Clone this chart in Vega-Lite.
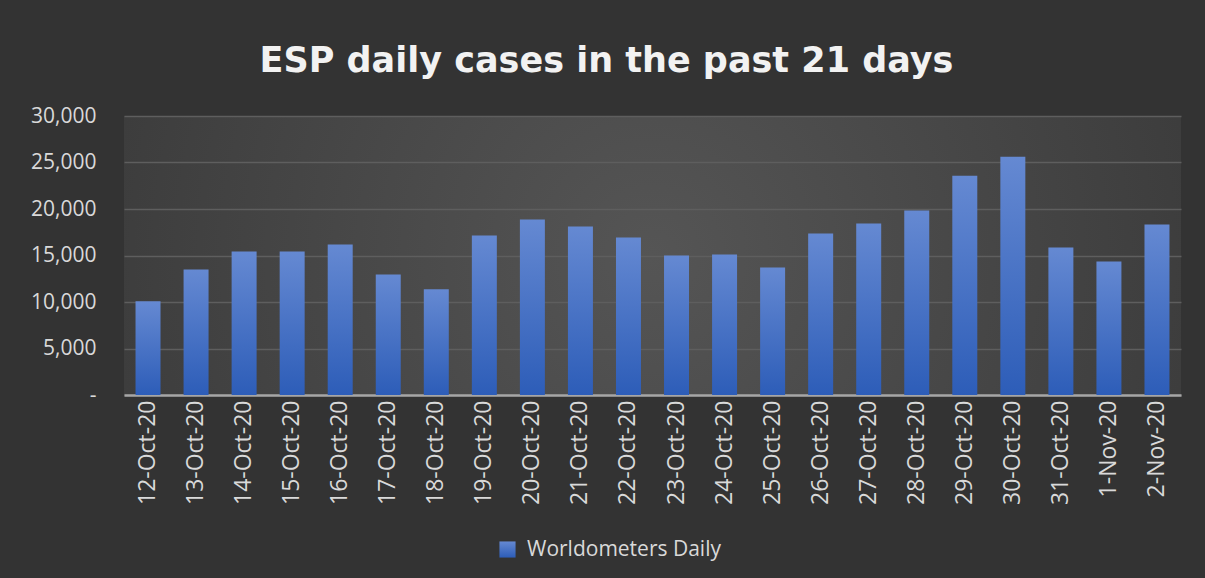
{
  "$schema": "https://vega.github.io/schema/vega-lite/v6.json",
  "autosize": {"type": "none"},
  "width": 1057,
  "height": 279,
  "padding": {"left": 124, "top": 116, "right": 24, "bottom": 183},
  "background": "#333333",
  "title": {
    "text": "ESP daily cases in the past 21 days",
    "font": "DejaVu Sans",
    "fontSize": 35,
    "fontWeight": "bold",
    "color": "#f2f2f2",
    "anchor": "middle",
    "frame": "group",
    "baseline": "alphabetic",
    "offset": 32,
    "dy": 34,
    "dx": -46
  },
  "data": {
    "values": [
      {"date": "12-Oct-20", "cases": 10070, "series": "Worldometers Daily"},
      {"date": "13-Oct-20", "cases": 13500, "series": "Worldometers Daily"},
      {"date": "14-Oct-20", "cases": 15430, "series": "Worldometers Daily"},
      {"date": "15-Oct-20", "cases": 15430, "series": "Worldometers Daily"},
      {"date": "16-Oct-20", "cases": 16180, "series": "Worldometers Daily"},
      {"date": "17-Oct-20", "cases": 12970, "series": "Worldometers Daily"},
      {"date": "18-Oct-20", "cases": 11360, "series": "Worldometers Daily"},
      {"date": "19-Oct-20", "cases": 17150, "series": "Worldometers Daily"},
      {"date": "20-Oct-20", "cases": 18860, "series": "Worldometers Daily"},
      {"date": "21-Oct-20", "cases": 18110, "series": "Worldometers Daily"},
      {"date": "22-Oct-20", "cases": 16930, "series": "Worldometers Daily"},
      {"date": "23-Oct-20", "cases": 15010, "series": "Worldometers Daily"},
      {"date": "24-Oct-20", "cases": 15110, "series": "Worldometers Daily"},
      {"date": "25-Oct-20", "cases": 13720, "series": "Worldometers Daily"},
      {"date": "26-Oct-20", "cases": 17360, "series": "Worldometers Daily"},
      {"date": "27-Oct-20", "cases": 18430, "series": "Worldometers Daily"},
      {"date": "28-Oct-20", "cases": 19830, "series": "Worldometers Daily"},
      {"date": "29-Oct-20", "cases": 23580, "series": "Worldometers Daily"},
      {"date": "30-Oct-20", "cases": 25620, "series": "Worldometers Daily"},
      {"date": "31-Oct-20", "cases": 15860, "series": "Worldometers Daily"},
      {"date": "1-Nov-20", "cases": 14360, "series": "Worldometers Daily"},
      {"date": "2-Nov-20", "cases": 18330, "series": "Worldometers Daily"}
    ]
  },
  "mark": {
    "type": "bar",
    "color": {"gradient": "linear", "x1": 0, "y1": 0, "x2": 0, "y2": 1,
              "stops": [{"offset": 0, "color": "#6589d2"}, {"offset": 1, "color": "#2d5db8"}]}
  },
  "encoding": {
    "x": {
      "field": "date",
      "type": "ordinal",
      "sort": null,
      "scale": {"paddingInner": 0.48, "paddingOuter": 0.24},
      "axis": {
        "title": null,
        "labelAngle": -90,
        "labelAlign": "right",
        "labelBaseline": "middle",
        "labelFont": "Open Sans",
        "labelFontSize": 23,
        "labelColor": "#d9d9d9",
        "labelPadding": 5,
        "ticks": false,
        "domainColor": "#a6a6a6",
        "domainWidth": 2.5,
        "grid": false
      }
    },
    "y": {
      "field": "cases",
      "type": "quantitative",
      "scale": {"domain": [0, 30000], "nice": false},
      "axis": {
        "title": null,
        "values": [0, 5000, 10000, 15000, 20000, 25000, 30000],
        "labelExpr": "datum.value == 0 ? '-\u00a0\u00a0\u00a0' : format(datum.value, ',')",
        "labelFont": "Open Sans",
        "labelFontSize": 21,
        "labelColor": "#d9d9d9",
        "labelPadding": 28,
        "ticks": false,
        "domain": false,
        "grid": true,
        "gridColor": "#5e5e5e",
        "gridWidth": 1.5
      }
    },
    "opacity": {
      "field": "series",
      "type": "nominal",
      "scale": {"range": [1]},
      "legend": {
        "title": null,
        "orient": "none",
        "legendX": 373,
        "legendY": 423,
        "direction": "horizontal",
        "symbolType": "square",
        "symbolSize": 260,
        "symbolFillColor": "#4a75c8",
        "symbolStrokeWidth": 0,
        "labelFont": "Open Sans",
        "labelFontSize": 21,
        "labelColor": "#d9d9d9",
        "labelOffset": 9,
        "labelLimit": 400
      }
    }
  },
  "config": {
    "view": {
      "stroke": null,
      "fill": {"gradient": "radial", "x1": 0.5, "y1": 0.5, "r1": 0, "x2": 0.5, "y2": 0.5, "r2": 0.75,
               "stops": [{"offset": 0, "color": "#555555"}, {"offset": 1, "color": "#323232"}]}
    }
  }
}
